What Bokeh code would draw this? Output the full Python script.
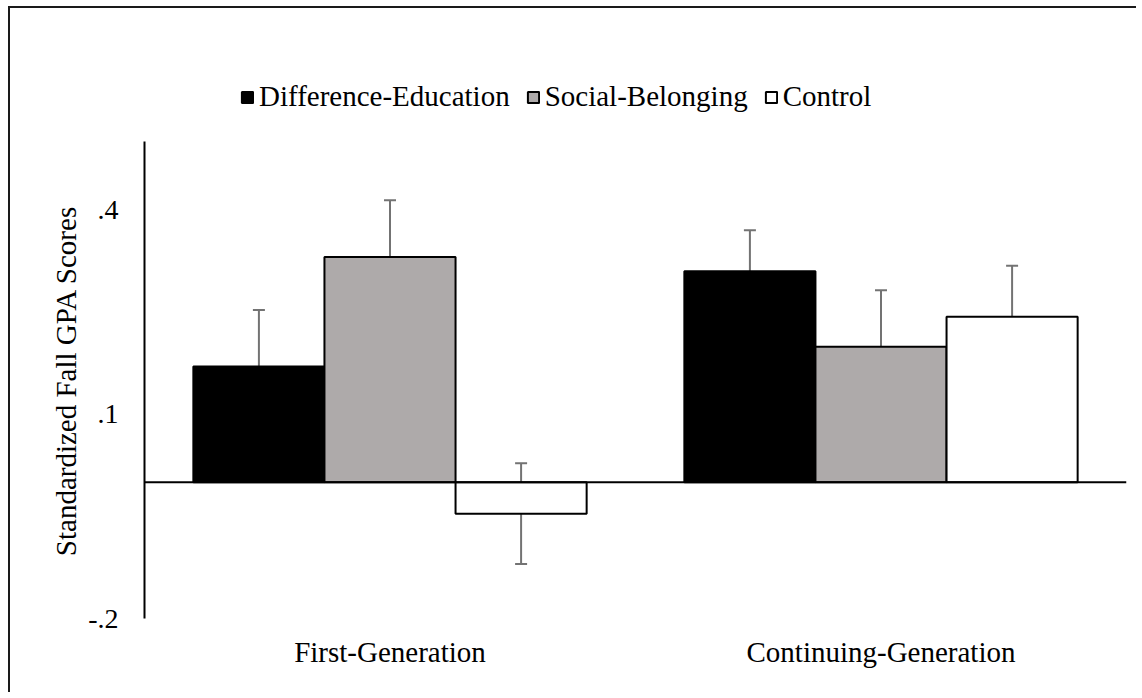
from bokeh.plotting import figure
from bokeh.models import (ColumnDataSource, FactorRange, Range1d, Whisker, TeeHead,
                          Span, Legend, LegendItem, FixedTicker, Title)
from bokeh.transform import dodge
from bokeh.embed import file_html
from bokeh.resources import INLINE

# ---- data ----
groups = ["First-Generation", "Continuing-Generation"]
series = ["Difference-Education", "Social-Belonging", "Control"]
de_means = [0.170, 0.310]
sb_means = [0.331, 0.199]
ctrl_means = [-0.046, 0.243]
de_err = [0.083, 0.060]
sb_err = [0.083, 0.083]
ctrl_err = [0.074, 0.075]
tick_values = [-0.2, 0.1, 0.4]
tick_labels = ["-.2", ".1", ".4"]
y_title = "Standardized Fall GPA Scores"
y_min, y_axis_max = -0.2, 0.5

colors = ["#000000", "#AEAAAA", "#FFFFFF"]
FONT = "Liberation Serif"
FS = "29px"

W, H = 1128, 686
frame_top, frame_bottom = 22, 610          # canvas px
px_per_unit = 681.0
y_max = y_min + (frame_bottom - frame_top) / px_per_unit

p = figure(width=W, height=H, output_backend="svg", toolbar_location=None,
           x_range=FactorRange(factors=groups, range_padding=0),
           y_range=Range1d(y_min, y_max),
           min_border_left=134, min_border_right=12,
           min_border_top=frame_top, min_border_bottom=H - frame_bottom)
p.outline_line_color = None
p.xgrid.visible = False
p.ygrid.visible = False
p.background_fill_color = "white"
p.border_fill_color = "white"
p.styles = {"margin-left": "8px", "margin-top": "6px",
            "border-left": "2px solid #1a1a1a", "border-top": "2px solid #1a1a1a"}

bar_w = 0.267
offsets = [-bar_w, 0.0, bar_w]
means = [de_means, sb_means, ctrl_means]
errs = [de_err, sb_err, ctrl_err]

renderers = []
for i, name in enumerate(series):
    m = means[i]
    e = errs[i]
    src = ColumnDataSource(dict(
        x=groups, top=m,
        upper=[a + b for a, b in zip(m, e)],
        lower=[a - b for a, b in zip(m, e)]))
    r = p.vbar(x=dodge("x", offsets[i], range=p.x_range), top="top", bottom=0,
               width=bar_w, source=src, fill_color=colors[i],
               line_color="#000000", line_width=2)
    renderers.append(r)
    wh = Whisker(base=dodge("x", offsets[i], range=p.x_range), upper="upper",
                 lower="lower", source=src, line_color="#737373", line_width=2,
                 upper_head=TeeHead(size=12, line_color="#737373", line_width=2),
                 lower_head=TeeHead(size=12, line_color="#737373", line_width=2))
    p.add_layout(wh)

p.add_layout(Span(location=0, dimension="width", line_color="#000000", line_width=2))

# y axis
ya = p.yaxis[0]
ya.ticker = FixedTicker(ticks=tick_values)
ya.major_label_overrides = {v: s for v, s in zip(tick_values, tick_labels)}
ya.bounds = (y_min, y_axis_max)
ya.axis_line_color = "#000000"
ya.axis_line_width = 2
ya.major_tick_out = 0
ya.major_tick_in = 0
ya.minor_tick_out = 0
ya.minor_tick_in = 0
ya.major_label_standoff = 26
ya.major_label_text_font = FONT
ya.major_label_text_font_size = "28px"
ya.major_label_text_color = "#000000"

# y axis title, centred on the axis line (not the taller frame):
# start of the text (bottom) placed so its middle sits at the axis middle
approx_text_len = 354
axis_mid_px = (y_axis_max + y_min) / 2 - y_min
title_offset = (axis_mid_px * px_per_unit) - approx_text_len / 2 - 5 + 6
ytitle = Title(text=y_title, align="left", offset=title_offset,
               standoff=8, text_font=FONT, text_font_size=FS,
               text_font_style="normal", text_color="#000000")
p.add_layout(ytitle, "left")

# x axis
xa = p.xaxis[0]
xa.axis_line_color = None
xa.major_tick_out = 0
xa.major_tick_in = 0
xa.minor_tick_out = 0
xa.major_label_standoff = 17
xa.major_label_text_font = FONT
xa.major_label_text_font_size = FS
xa.major_label_text_color = "#000000"

legend = Legend(items=[LegendItem(label=s, renderers=[r]) for s, r in zip(series, renderers)],
                orientation="horizontal", location=(96, 505),
                background_fill_alpha=0, border_line_color=None,
                padding=0, margin=0, spacing=16, label_standoff=5,
                glyph_width=14, glyph_height=14, label_height=20,
                label_text_font=FONT, label_text_font_size=FS,
                label_text_color="#000000")
p.add_layout(legend)

open("out.html", "w").write(file_html(p, INLINE))
